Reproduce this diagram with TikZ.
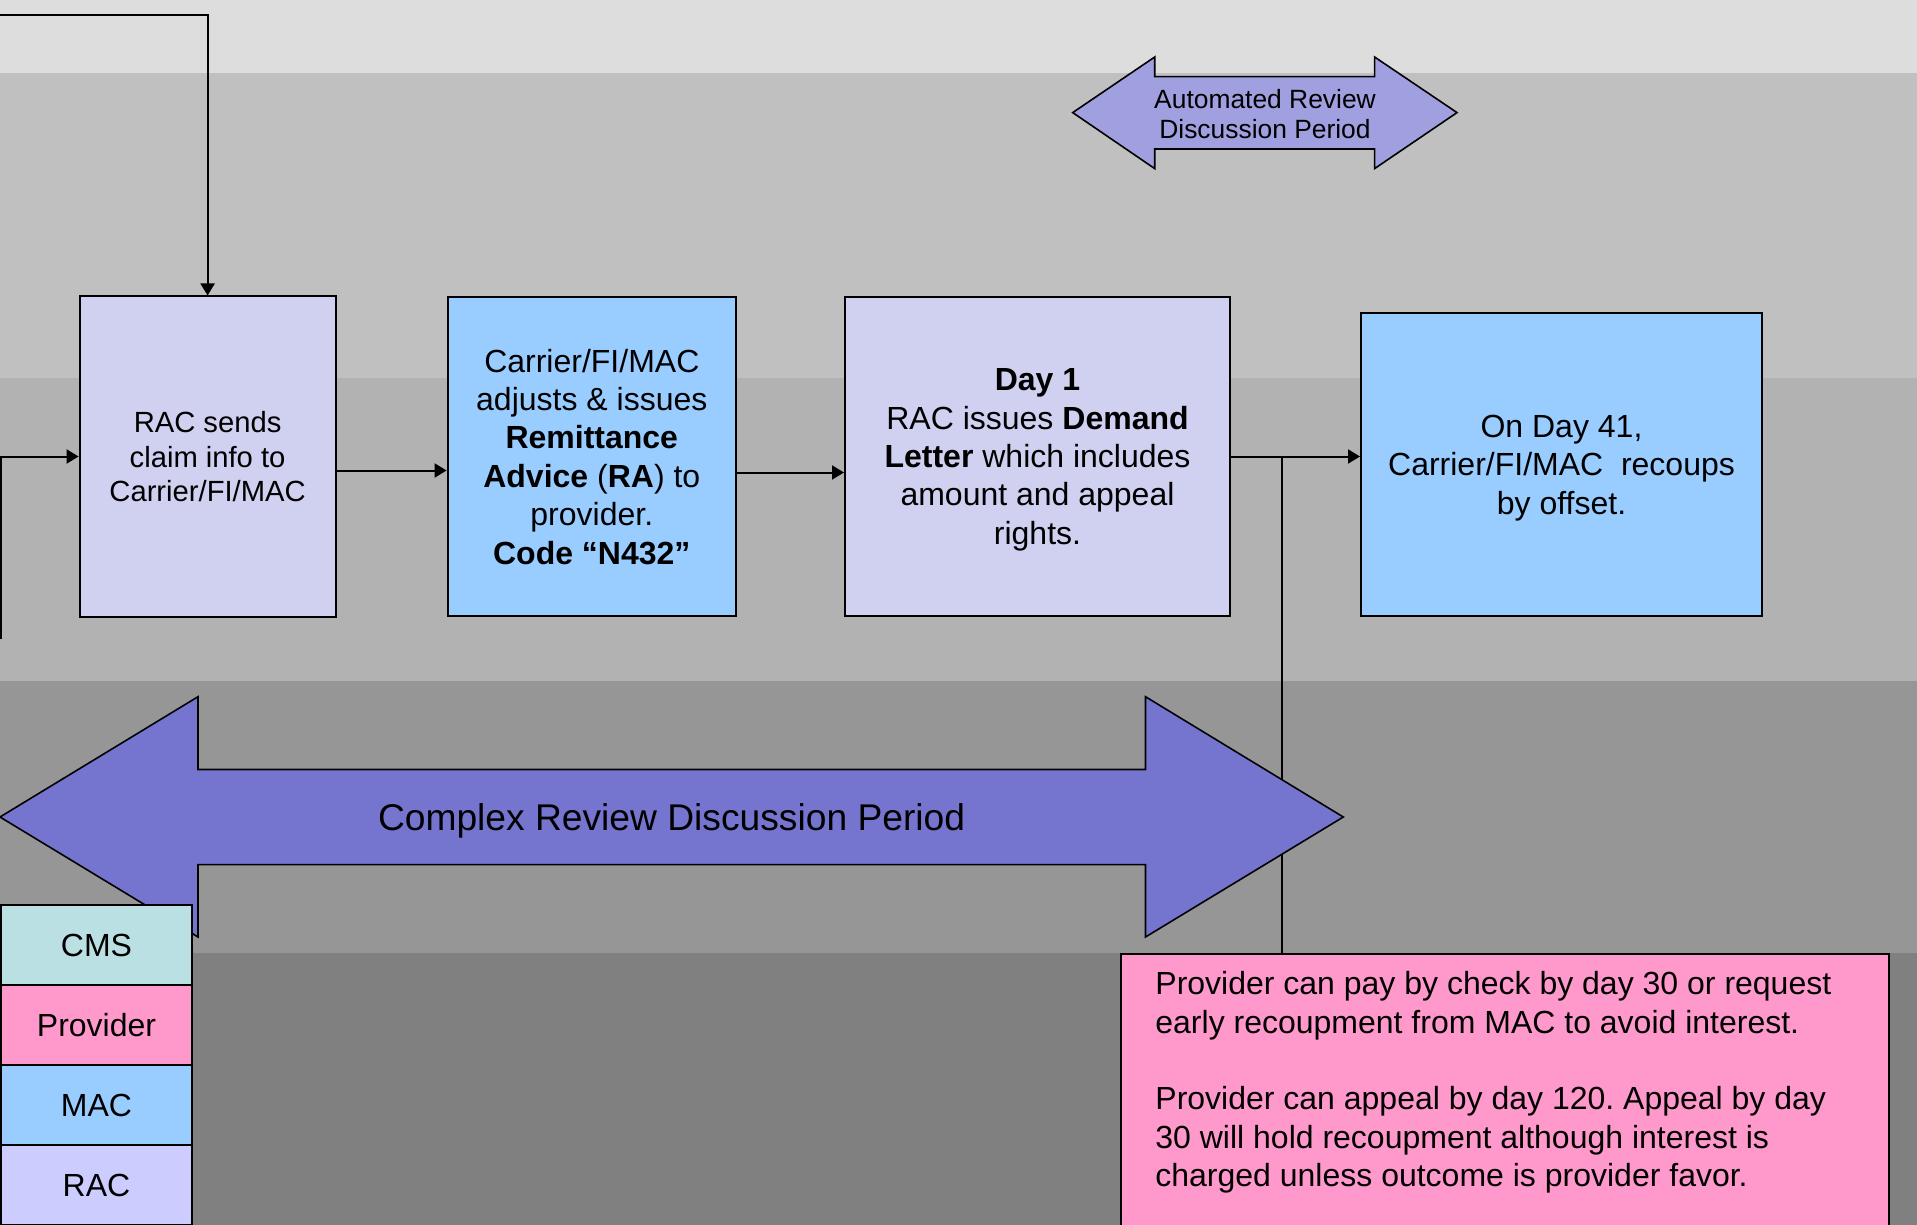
\documentclass[tikz,border=0pt]{standalone}
\usepackage{fontspec}
\setmainfont{Liberation Sans}
\usepackage{tikz}
\usetikzlibrary{arrows.meta,calc,positioning}
\definecolor{laneA}{HTML}{DDDDDD}
\definecolor{laneB}{HTML}{C0C0C0}
\definecolor{laneC}{HTML}{B2B2B2}
\definecolor{laneD}{HTML}{969696}
\definecolor{laneE}{HTML}{808080}
\definecolor{racfill}{HTML}{D0D0F0}
\definecolor{rackey}{HTML}{CCCCFF}
\definecolor{macfill}{HTML}{99CCFF}
\definecolor{provfill}{HTML}{FF99CC}
\definecolor{cmsfill}{HTML}{BBE0E3}
\definecolor{autofill}{HTML}{A0A0E0}
\definecolor{cplxfill}{HTML}{7575D0}
\frenchspacing

\begin{document}
\begin{tikzpicture}[x=0.5pt,y=-0.5pt,
  box/.style={draw,line width=1pt,align=center,inner sep=0pt,text depth=0pt,font=\fontsize{16}{19.2}\selectfont},
  racbox/.style={box,fill=racfill},
  macbox/.style={box,fill=macfill},
  key/.style={box,outer sep=0pt,minimum width=95.5pt,minimum height=40pt},
  conn/.style={line width=1pt},
  arr/.style={conn,-{Triangle[length=6pt,width=7pt]}},
  period/.style={draw,line width=0.8pt}]
\useasboundingbox (0,0) rectangle (1917,1225);
\fill[laneA] (0,0) rectangle (1917,73.5);
\fill[laneB] (0,73.5) rectangle (1917,377.5);
\fill[laneC] (0,377.5) rectangle (1917,681);
\fill[laneD] (0,681) rectangle (1917,952.5);
\fill[laneE] (0,952.5) rectangle (1917,1225);

\node[racbox,minimum width=128pt,minimum height=160pt,font=\fontsize{14.6}{17.4}\selectfont] (claim) at (207.6,456.5) {RAC sends\\claim info to\\Carrier/FI/MAC};
\node[macbox,minimum width=144.2pt,minimum height=159.5pt] (adjust) at (591.8,456.5) {Carrier/FI/MAC\\adjusts \& issues\\\textbf{Remittance}\\\textbf{Advice} (\textbf{RA}) to\\provider.\\\textbf{Code “N432”}};
\node[racbox,minimum width=192.5pt,minimum height=159.5pt] (demand) at (1037.5,456.5) {\textbf{Day 1}\\RAC issues \textbf{Demand}\\\textbf{Letter} which includes\\amount and appeal\\rights.};
\node[macbox,minimum width=200.5pt,minimum height=151.5pt] (recoup) at (1561.5,464.5) {On Day 41,\\Carrier/FI/MAC\ \ recoups\\by offset.};
\node[box,fill=provfill,minimum width=384pt,minimum height=136.5pt,anchor=north west] (pay) at (1120,952.7) {};
\node[anchor=north west,align=left,inner sep=0pt,font=\fontsize{16}{19.2}\selectfont] (paytext) at ($(pay.north west)+(35,18.5)$) {Provider can pay by check by day 30 or request\\early recoupment from MAC to avoid interest.\\[19.2pt]Provider can appeal by day 120. Appeal by day\\30 will hold recoupment although interest is\\charged unless outcome is provider favor.};

\coordinate (topin) at (0,15);
\coordinate (leftin) at (1,639);
\draw[arr] (topin) -| (claim.north);
\draw[arr] (leftin) |- (claim.west);
\draw[arr] ($(claim.east)+(0,14)$) coordinate (c1) -- (c1 -| adjust.west);
\draw[arr] ($(adjust.east)+(0,16)$) coordinate (c2) -- (c2 -| demand.west);
\draw[arr] (demand.east) -- (demand.east -| recoup.west);
\coordinate (split) at ($(demand.east)+(51,0)$);
\draw[conn] (split) -- (split |- pay.north);

\draw[period,fill=autofill] (1072.7,112.6) -- (1154.7,57) -- (1154.7,76.7) -- (1374.6,76.7) -- (1374.6,57) -- (1457,112.6) -- (1374.6,168.6) -- (1374.6,149) -- (1154.7,149) -- (1154.7,168.6) -- cycle;
\node[align=center,font=\fontsize{13.2}{15.4}\selectfont] (auto) at (1265,114) {Automated Review\\Discussion Period};
\draw[period,fill=cplxfill] (0,817) -- (198,696.7) -- (198,769.5) -- (1145.5,769.5) -- (1145.5,696.7) -- (1343.3,817) -- (1145.5,937) -- (1145.5,864.6) -- (198,864.6) -- (198,937) -- cycle;
\node[font=\fontsize{18.6}{22}\selectfont] (complex) at (671.6,820.5) {Complex Review Discussion Period};

\node[key,fill=cmsfill,anchor=north west] (cms) at (1,905) {CMS};
\node[key,fill=provfill,below=0pt of cms] (prov) {Provider};
\node[key,fill=macfill,below=0pt of prov] (mac) {MAC};
\node[key,fill=rackey,below=0pt of mac] (rac) {RAC};
\end{tikzpicture}
\end{document}
